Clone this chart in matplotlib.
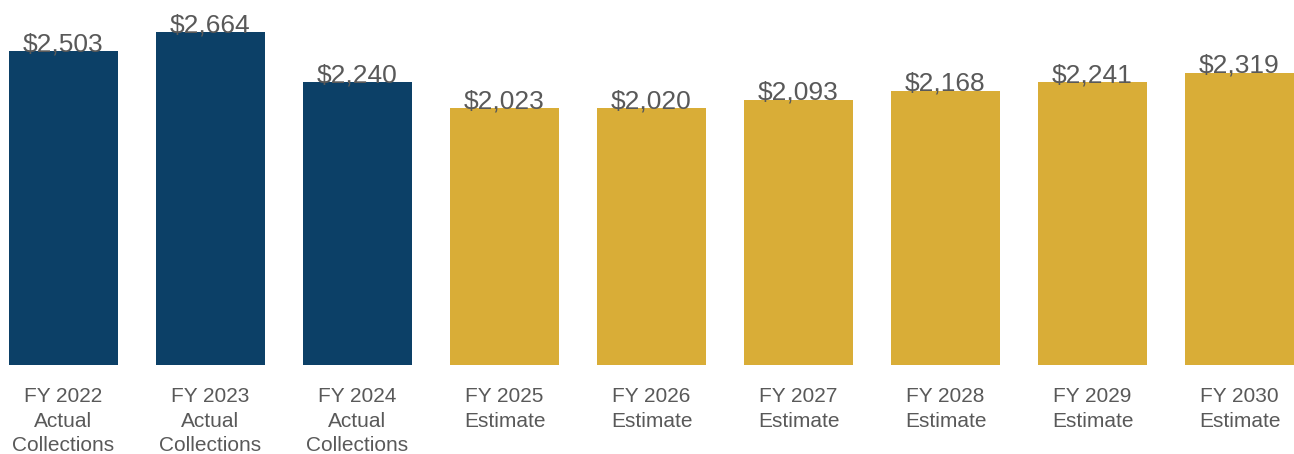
import matplotlib
matplotlib.use('Agg')
import matplotlib.pyplot as plt

plt.rcParams['font.family'] = ['Liberation Sans', 'DejaVu Sans']

# collections in $ millions
years = ['FY 2022', 'FY 2023', 'FY 2024', 'FY 2025', 'FY 2026',
         'FY 2027', 'FY 2028', 'FY 2029', 'FY 2030']
kinds = ['Actual\nCollections', 'Actual\nCollections', 'Actual\nCollections',
         'Estimate', 'Estimate', 'Estimate', 'Estimate', 'Estimate', 'Estimate']
values = [2503, 2664, 2240, 2023, 2020, 2093, 2168, 2241, 2319]
actual = [True, True, True, False, False, False, False, False, False]

navy = '#0C4067'
gold = '#D9AD37'
grey = '#595959'

# value axis does not start at zero; bars grow from the bottom of the axis
y0, y1 = -143, 2934

fig = plt.figure(figsize=(12.94, 4.54), dpi=100)
ax = fig.add_axes([0, 89 / 454, 1, 365 / 454])

xs = list(range(len(values)))
colors = [navy if a else gold for a in actual]
ax.bar(xs, [v - y0 for v in values], bottom=y0, width=0.748, color=colors)

for x, v in zip(xs, values):
    ax.text(x, v, '${:,}'.format(v), ha='center', va='baseline',
            fontsize=19, color=grey)

ax.set_xlim(-63.5 / 147, (1294 - 63.5) / 147)
ax.set_ylim(y0, y1)

ax.set_xticks(xs)
ax.set_xticklabels([y + '\n' + k for y, k in zip(years, kinds)],
                   fontsize=15, color=grey, linespacing=1.36)
ax.tick_params(axis='x', length=0, pad=16)
ax.set_yticks([])
for s in ax.spines.values():
    s.set_visible(False)

fig.savefig('out.png', dpi=100)
